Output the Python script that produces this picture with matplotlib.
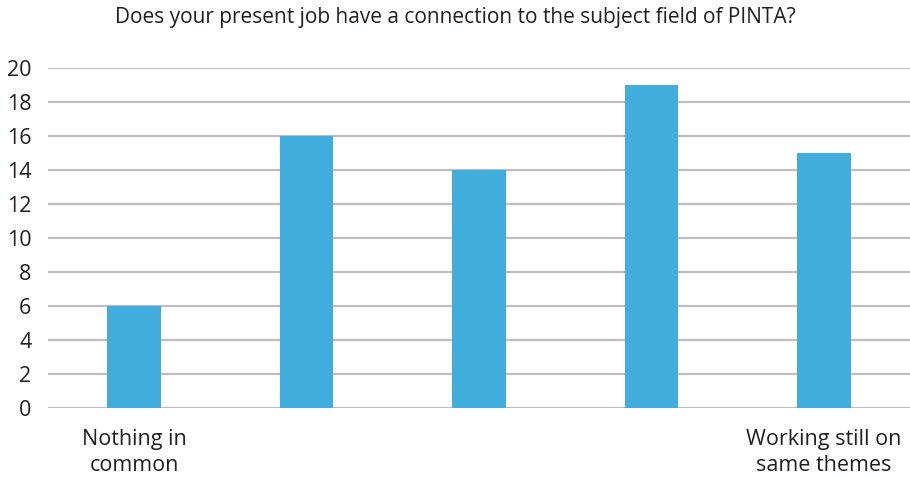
import matplotlib
matplotlib.use("Agg")
import matplotlib.pyplot as plt

categories = ["Nothing in\ncommon", "", "", "", "Working still on\nsame themes"]
values = [6, 16, 14, 19, 15]
yticks = [0, 2, 4, 6, 8, 10, 12, 14, 16, 18, 20]
title = "Does your present job have a connection to the subject field of PINTA?"

plt.rcParams['font.family'] = ['Open Sans', 'DejaVu Sans']
text_color = "#231F20"

fig = plt.figure(figsize=(9.1, 4.78), dpi=100)
ax = fig.add_axes([48/910, 1-408/478, 1-48/910, (408-68)/478])

x = list(range(len(values)))
ax.bar(x, values, width=0.31, color="#41ADDD", zorder=3)
ax.set_xlim(-0.5, len(values)-0.5)
ax.set_ylim(0, 20)
ax.set_yticks(yticks)
ax.set_yticklabels([str(v) for v in yticks], fontsize=15.5, color=text_color)
ax.set_xticks(x)
ax.set_xticklabels(categories, fontsize=15.5, color=text_color, linespacing=1.3)
ax.tick_params(axis='both', length=0)
ax.tick_params(axis='y', pad=12)
ax.tick_params(axis='x', pad=15)
ax.grid(axis='y', color="#BEBEC0", linewidth=1.6, zorder=0)
for s in ax.spines.values():
    s.set_visible(False)
fig.text(0.5, 1-18/478, title, ha='center', va='center', fontsize=15, color=text_color)
fig.savefig("out.png", dpi=100)
